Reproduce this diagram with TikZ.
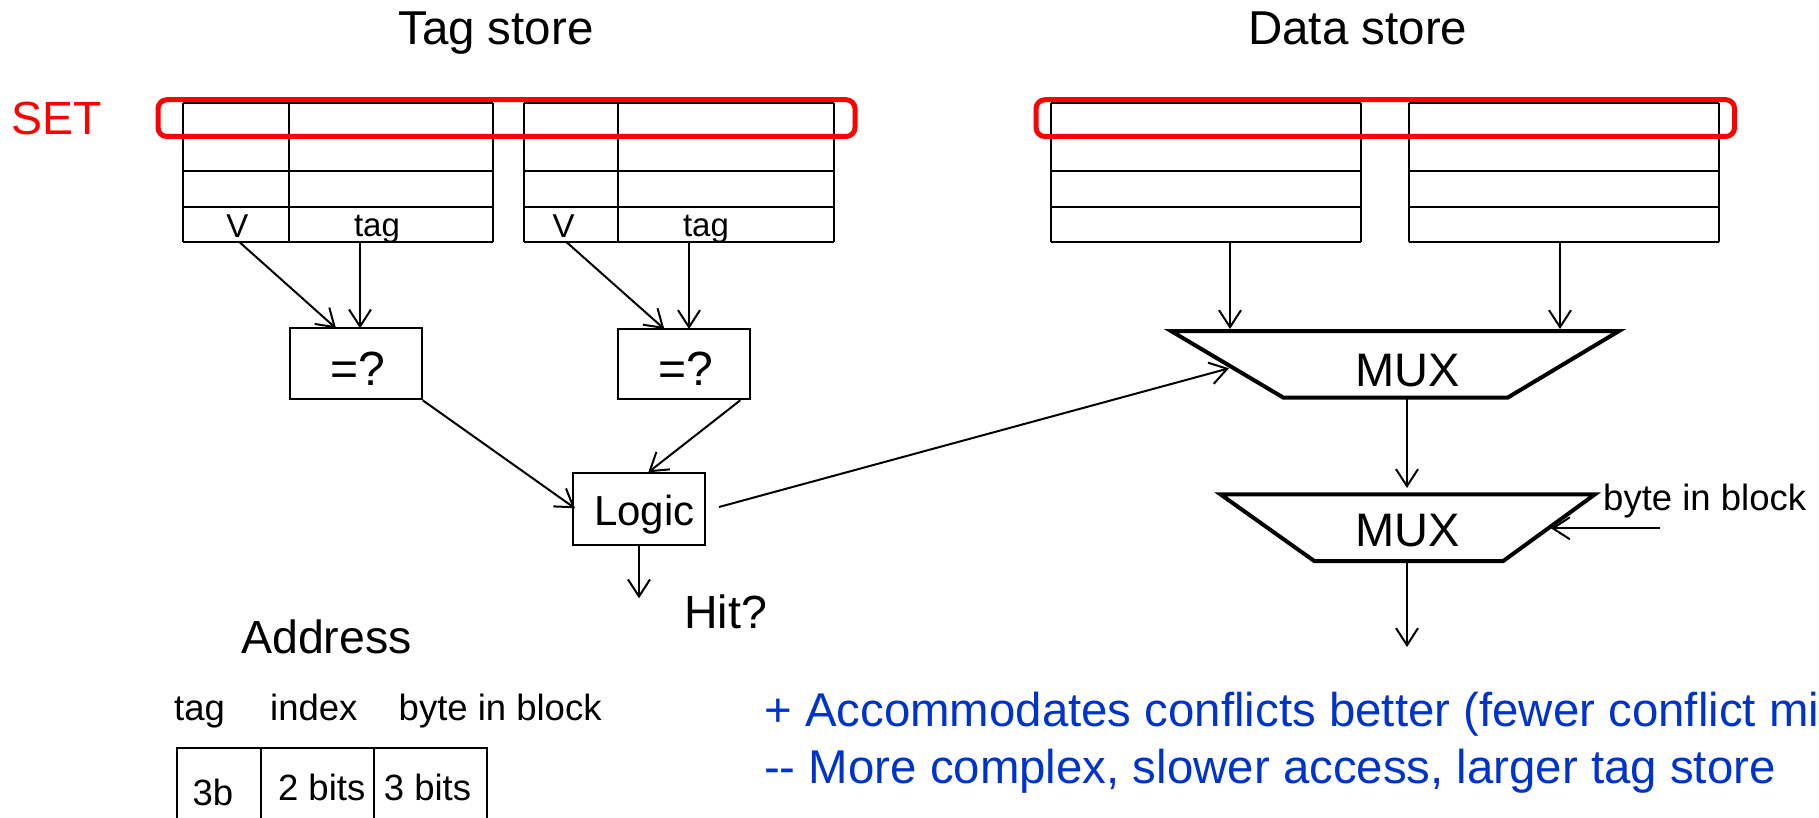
\documentclass[tikz,border=0pt]{standalone}
\usepackage{fontspec}
\setmainfont{Liberation Sans}
\usetikzlibrary{arrows.meta}
\definecolor{setred}{RGB}{255,0,0}
\definecolor{problue}{RGB}{0,51,204}
\newcommand\FsBig{\fontsize{46.5}{50}\selectfont}
\newcommand\FsTitle{\fontsize{47.5}{50}\selectfont}
\newcommand\FsEq{\fontsize{48}{52}\selectfont}
\newcommand\FsLogic{\fontsize{42}{46}\selectfont}
\newcommand\FsMux{\fontsize{47}{50}\selectfont}
\newcommand\FsSmall{\fontsize{36.5}{40}\selectfont}
\newcommand\FsCell{\fontsize{33}{36}\selectfont}
\newcommand\FsBlue{\fontsize{47.4}{50}\selectfont}
\begin{document}
\begin{tikzpicture}[x=1pt,y=-1pt,
  conn/.style={line width=2pt,-{Straight Barb[length=17pt,width=22pt,line width=2pt]}},
  gridline/.style={line width=2pt},
  cellbox/.style={draw,line width=2pt,inner sep=0pt},
  muxshape/.style={line width=4pt,line join=miter},
  setbox/.style={draw=setred,line width=5pt,rounded corners=9pt},
  txt/.style={inner sep=0pt,anchor=base west},
  ctxt/.style={inner sep=0pt,anchor=base}]
\useasboundingbox (0,0) rectangle (1819,818);

% titles
\node[txt,font=\FsTitle] (tagtitle) at (398,45) {Tag store};
\node[txt,font=\FsTitle] (datatitle) at (1248,45) {Data store};
\node[txt,font=\FsBig,text=setred] (setlbl) at (11,135) {SET};

% tag store ways
\foreach \xa/\xb/\xc in {183/289.2/493, 523.5/617.7/833.8}{
  \foreach \yy in {102.7,137,170.7,206.7,241.7}
    \draw[gridline] (\xa,\yy) -- (\xc,\yy);
  \draw[gridline] (\xa,102.7) -- (\xa,241.7);
  \draw[gridline] (\xb,102.7) -- (\xb,241.7);
  \draw[gridline] (\xc,102.7) -- (\xc,241.7);
}
% data store ways
\foreach \xa/\xc in {1050.6/1360.5, 1409/1719.3}{
  \foreach \yy in {102.7,137,170.7,206.7,241.7}
    \draw[gridline] (\xa,\yy) -- (\xc,\yy);
  \draw[gridline] (\xa,102.7) -- (\xa,241.7);
  \draw[gridline] (\xc,102.7) -- (\xc,241.7);
}
% SET highlight
\draw[setbox] (158,99.7) rectangle (855,136.5);
\draw[setbox] (1036,99.7) rectangle (1734.6,136.5);

% cell labels
\node[ctxt,font=\FsCell] (v1) at (237.5,238) {V};
\node[ctxt,font=\FsCell] (t1) at (377,237) {tag};
\node[ctxt,font=\FsCell] (v2) at (563.7,238) {V};
\node[ctxt,font=\FsCell] (t2) at (706,237) {tag};

% comparators
\node[cellbox,minimum width=131.7pt,minimum height=71pt] (eq1) at (355.85,363.8) {};
\node[cellbox,minimum width=131.7pt,minimum height=70.3pt] (eq2) at (684.15,364.15) {};
\node[txt,font=\FsEq] (eq1t) at (330,385) {=?};
\node[txt,font=\FsEq] (eq2t) at (658.5,385) {=?};

% logic
\node[cellbox,minimum width=131.7pt,minimum height=71.7pt] (logic) at (639.15,509.15) {};
\node[txt,font=\FsLogic] (logict) at (594,525) {Logic};
\node[txt,font=\FsBig] (hit) at (684,628.3) {Hit?};

% connector end points
\coordinate (v1o) at (239,241.7);
\coordinate (t1o) at (360,241.7);
\coordinate (v2o) at (566,241.7);
\coordinate (t2o) at (689,241.7);
\coordinate (eq1a) at (336,328.3);
\coordinate (eq1b) at (360,328.3);
\coordinate (eq2a) at (664.3,329);
\coordinate (eq2b) at (689,329);
\coordinate (logicin1) at (575,508.3);
\coordinate (logicin2) at (648.3,472.3);
\coordinate (logicout) at (719,507);
\coordinate (logicdown) at (639,545);
\coordinate (hitend) at (639,598.3);

\draw[conn] (v1o) -- (eq1a);
\draw[conn] (t1o) -- (eq1b);
\draw[conn] (v2o) -- (eq2a);
\draw[conn] (t2o) -- (eq2b);
\draw[conn] (eq1.south east) -- (logicin1);
\draw[conn] ([xshift=-10.7pt]eq2.south east) -- (logicin2);
\draw[conn] (logicdown) -- (hitend);

% MUX 1
\coordinate (m1tl) at (1171,331);
\coordinate (m1tr) at (1619,331);
\coordinate (m1br) at (1507.5,397.7);
\coordinate (m1bl) at (1283.5,397.7);
\draw[muxshape] (m1tl) -- (m1tr) -- (m1br) -- (m1bl) -- cycle;
\node[ctxt,font=\FsMux] (mux1) at (1408,386.7) {MUX};
% MUX 2
\coordinate (m2tl) at (1220.4,494.3);
\coordinate (m2tr) at (1595,494.3);
\coordinate (m2br) at (1503.2,561);
\coordinate (m2bl) at (1314.2,561);
\draw[muxshape] (m2tl) -- (m2tr) -- (m2br) -- (m2bl) -- cycle;
\node[ctxt,font=\FsMux] (mux2) at (1408,546.7) {MUX};

\coordinate (d1o) at (1230,241.7);
\coordinate (d2o) at (1560,241.7);
\coordinate (m1in1) at (1230,329);
\coordinate (m1in2) at (1560,329);
\coordinate (m1sel) at (1229,368.3);
\coordinate (m1out) at (1407,397.7);
\coordinate (m2in) at (1407,488);
\coordinate (m2out) at (1407,561);
\coordinate (finalout) at (1407,647);
\coordinate (bibsrc) at (1660,528.3);
\coordinate (m2sel) at (1551,528.3);

\draw[conn] (d1o) -- (m1in1);
\draw[conn] (d2o) -- (m1in2);
\draw[conn] (logicout) -- (m1sel);
\draw[conn] (m1out) -- (m2in);
\draw[conn] (m2out) -- (finalout);
\draw[conn] (bibsrc) -- (m2sel);
\node[txt,font=\FsSmall] (biblbl) at (1603,510) {byte in block};

% address
\node[txt,font=\FsBig] (addr) at (241,653.3) {Address};
\node[txt,font=\FsSmall] (atag) at (174,720) {tag};
\node[txt,font=\FsSmall] (aidx) at (270,720) {index};
\node[txt,font=\FsSmall] (abib) at (398.5,720) {byte in block};
\draw[gridline] (176.7,818) -- (176.7,748.3) -- (487.3,748.3) -- (487.3,818);
\draw[gridline] (260.7,748.3) -- (260.7,818);
\draw[gridline] (374,748.3) -- (374,818);
\node[ctxt,font=\FsSmall] (f1) at (213,805) {3b};
\node[ctxt,font=\FsSmall] (f2) at (321.7,800) {2 bits};
\node[ctxt,font=\FsSmall] (f3) at (427.5,800) {3 bits};

% pros / cons
\node[txt,font=\FsBlue,text=problue] (pro) at (764,726.7) {+ Accommodates conflicts better (fewer conflict misses)};
\node[txt,font=\FsBlue,text=problue] (con) at (764,783.3) {-{}- More complex, slower access, larger tag store};
\end{tikzpicture}
\end{document}
